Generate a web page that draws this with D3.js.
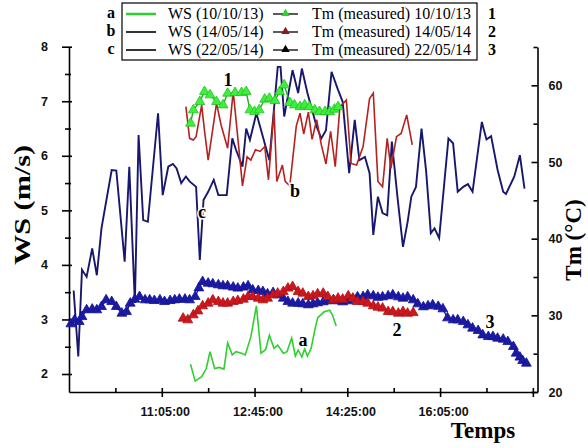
<!DOCTYPE html>
<html>
<head>
<meta charset='utf-8'>
<script src="https://d3js.org/d3.v7.min.js"></script>
<style>
    body { margin: 0; background: white; }
    .tick text { font-family: "Liberation Sans", Arial, sans-serif; font-weight: bold; font-size: 12.5px; fill: #111; }
    .tick line, .domain { stroke: #000; stroke-width: 1.6; }
    .title { font-family: "Liberation Serif", "Times New Roman", serif; font-weight: bold; fill: #000; }
    .leg { font-family: "Liberation Serif", "Times New Roman", serif; font-size: 16px; fill: #000; }
</style>
</head>
<body>
<script>

// WS (m/s) 10/10/13
var timeA = ["11:36","11:41","11:48","11:53","11:57","12:02","12:07","12:12","12:16","12:21","12:25","12:31","12:35","12:41","12:47","12:52","12:57","13:01","13:06","13:10","13:16","13:20","13:25","13:29","13:32","13:36","13:39","13:42","13:46","13:50","13:53","14:00","14:06","14:09","14:13"];
var wsA = [2.18,1.87,1.95,2.10,2.41,2.10,2.12,2.09,2.57,2.35,2.41,2.38,2.35,2.68,3.25,2.38,2.45,2.71,2.47,2.53,2.38,2.41,2.66,2.33,2.44,2.31,2.46,2.33,2.47,2.81,3.03,3.14,3.17,3.08,2.88];

// WS (m/s) 14/05/14
var timeB = ["11:31","11:35","11:39","11:42","11:48","11:51","11:55","11:58","12:04","12:09","12:16","12:22","12:29","12:32","12:37","12:41","12:46","12:51","12:56","13:00","13:06","13:09","13:15","13:18","13:23","13:30","13:34","13:38","13:43","13:47","13:52","13:57","14:02","14:07","14:12","14:17","14:24","14:29","14:35","14:42","14:49","14:53","14:58","15:03","15:08","15:12","15:18","15:23","15:29","15:35"];
var wsB = [6.90,6.32,6.29,6.35,6.93,6.47,5.92,6.26,6.96,6.56,6.14,7.18,5.98,5.45,5.98,5.92,6.11,6.08,6.17,5.56,6.84,5.53,5.83,5.53,5.45,6.55,6.78,6.40,6.80,6.30,6.66,6.20,5.85,6.45,5.80,6.90,7.02,5.86,5.83,6.17,7.05,7.15,5.53,5.43,6.32,5.77,6.35,6.41,6.75,6.20];

// WS (m/s) 22/05/14
var timeC = ["9:30","9:35","9:39","9:44","9:50","9:55","10:00","10:11","10:16","10:25","10:30","10:36","10:40","10:45","10:50","11:01","11:06","11:12","11:17","11:21","11:26","11:31","11:35","11:42","11:46","11:50","11:55","12:01","12:06","12:15","12:21","12:25","12:32","12:36","12:40","12:47","12:54","13:01","13:10","13:13","13:17","13:26","13:32","13:36","13:42","13:48","13:52","13:57","14:02","14:08","14:15","14:20","14:27","14:33","14:38","14:44","14:49","14:53","14:58","15:03","15:08","15:13","15:19","15:25","15:30","15:34","15:39","15:45","15:50","15:55","15:59","16:04","16:14","16:19","16:24","16:30","16:35","16:40","16:50","16:55","17:00","17:07","17:13","17:16","17:25","17:31","17:36"];
var wsC = [3.53,2.32,3.91,3.78,4.30,3.81,4.67,5.74,5.73,4.06,5.80,3.30,6.38,4.82,4.79,6.78,5.28,5.80,5.85,5.77,5.50,5.62,5.53,5.43,4.09,5.19,5.34,5.56,5.28,5.28,6.32,6.11,5.80,6.50,6.29,6.78,6.35,5.92,7.63,7.63,6.72,7.57,7.15,7.60,7.15,6.78,6.53,6.32,6.47,7.54,7.21,6.99,5.68,6.66,5.92,5.98,5.68,4.55,5.25,4.95,4.91,6.26,5.25,4.33,4.79,5.25,5.43,6.50,5.71,4.58,4.67,4.49,6.32,6.23,5.34,5.43,5.48,5.34,6.62,6.30,6.36,5.74,5.34,5.30,5.62,6.01,5.40];

// Tm (measured) 10/10/13
var timeT1 = ["11:36","11:39","11:46","11:51","11:57","12:04","12:11","12:16","12:24","12:31","12:36","12:40","12:45","12:50","12:56","13:01","13:07","13:12","13:17","13:23","13:28","13:34","13:39","13:44","13:50","13:55","14:01","14:06","14:11","14:15"];
var tm1 = [55.05,56.78,57.87,59.17,58.74,57.87,57.43,58.96,59.04,59.04,59.17,56.78,56.56,56.78,58.18,58.30,58.00,59.17,60.04,57.74,57.43,57.20,57.43,57.20,56.78,56.56,56.56,56.56,56.87,57.20];

// Tm (measured) 14/05/14
var timeT2 = ["11:28","11:33","11:39","11:44","11:49","11:55","12:00","12:06","12:11","12:16","12:22","12:27","12:33","12:38","12:43","12:49","12:54","12:59","13:05","13:10","13:16","13:21","13:26","13:32","13:37","13:43","13:48","13:53","13:59","14:04","14:10","14:15","14:20","14:26","14:31","14:36","14:42","14:47","14:53","14:58","15:03","15:09","15:14","15:20","15:25","15:30","15:36"];
var tm2 = [29.61,29.39,30.04,30.56,31.22,31.57,32.00,31.78,31.57,31.57,31.78,31.91,32.09,32.43,32.43,32.22,32.00,32.22,32.65,32.87,33.08,33.53,33.73,33.08,32.87,32.43,32.52,32.78,32.87,32.43,32.00,32.22,32.09,32.52,32.22,31.78,31.78,31.57,31.22,31.05,30.92,30.47,30.47,30.26,30.47,30.26,30.34];

// Tm (measured) 22/05/14
var timeT3 = ["9:27","9:31","9:36","9:39","9:44","9:50","9:55","10:00","10:05","10:11","10:16","10:22","10:27","10:31","10:36","10:41","10:47","10:52","10:57","11:03","11:08","11:14","11:19","11:24","11:30","11:35","11:41","11:45","11:49","11:55","12:00","12:06","12:11","12:16","12:22","12:27","12:33","12:38","12:43","12:49","12:54","12:59","13:05","13:10","13:16","13:21","13:26","13:32","13:37","13:43","13:48","13:53","13:59","14:04","14:10","14:15","14:20","14:26","14:31","14:36","14:42","14:47","14:53","14:58","15:03","15:09","15:14","15:20","15:25","15:30","15:36","15:41","15:47","15:52","15:57","16:03","16:08","16:13","16:19","16:24","16:30","16:35","16:40","16:46","16:51","16:57","17:02","17:07","17:13","17:18","17:24","17:27","17:31","17:34","17:38"];
var tm3 = [28.87,29.39,29.17,29.82,30.70,30.79,30.70,31.13,32.00,31.78,31.13,30.26,30.47,31.57,32.09,32.43,32.00,32.00,31.91,32.00,31.78,31.91,32.00,32.09,32.09,32.00,32.43,33.56,34.39,34.18,34.09,33.96,33.83,33.83,33.66,33.53,33.66,33.83,33.30,33.21,33.08,32.78,32.95,32.65,32.22,31.78,31.57,31.57,31.48,31.35,31.48,31.61,31.74,31.87,32.00,31.87,31.74,31.87,32.13,32.39,32.43,32.65,32.52,32.33,32.39,32.52,32.65,32.39,32.22,32.39,32.00,31.48,31.09,31.22,31.35,31.15,30.83,29.65,29.39,29.39,29.17,28.74,28.31,28.00,27.43,27.21,27.21,27.00,26.87,26.56,25.91,25.05,24.53,24.08,23.74];

// axes
var xTickTimes = ["11:05","12:45","14:25","16:05","17:45"];
var xTickLabels = ["11:05:00","12:45:00","14:25:00","16:05:00",""];
var xMinorTimes = ["10:15","11:55","13:35","15:15","16:55"];
var wsTicks = [2,3,4,5,6,7,8];
var wsMinor = [2.5,3.5,4.5,5.5,6.5,7.5];
var tmTicks = [20,30,40,50,60];
var tmMinor = [25,35,45,55,65];

// legend
var legLetters = ["a","b","c"];
var legWS = ["WS (10/10/13)","WS (14/05/14)","WS (22/05/14)"];
var legTm = ["Tm (measured) 10/10/13","Tm (measured) 14/05/14","Tm (measured) 22/05/14"];
var legNumbers = ["1","2","3"];

var width = 588, height = 448;

var svg = d3.select('body')
    .append('svg')
    .attr('width', width)
    .attr('height', height);

function toMin(s) {
    var p = s.split(':');
    return +p[0] * 60 + +p[1];
}
function pairs(times, vals) {
    return times.map(function(t, i) { return {t: toMin(t), v: vals[i]}; });
}

var x = d3.scaleLinear().domain([toMin("9:25"), toMin("17:50")]).range([69, 537.5]);
var yWS = d3.scaleLinear().domain([1.67, 8]).range([392, 46.7]);
var yTm = d3.scaleLinear().domain([20, 65]).range([392, 47]);

// left axis
var gl = svg.append("g").attr("transform", "translate(69,0)")
    .call(d3.axisLeft(yWS).tickValues(wsTicks).tickSizeInner(7).tickSizeOuter(0).tickPadding(14).tickFormat(d3.format("d")));
gl.selectAll(".tick line").attr("x1", 3);
var glm = svg.append("g").attr("transform", "translate(69,0)")
    .call(d3.axisLeft(yWS).tickValues(wsMinor).tickSize(4).tickFormat(""));
glm.select(".domain").remove();
glm.selectAll(".tick line").attr("x1", 2);

// right axis (ticks inward)
svg.append("g").attr("transform", "translate(537.5,0)")
    .call(d3.axisRight(yTm).tickValues(tmTicks).tickSizeInner(-6).tickSizeOuter(0).tickPadding(11).tickFormat(d3.format("d")));
var grm = svg.append("g").attr("transform", "translate(537.5,0)")
    .call(d3.axisRight(yTm).tickValues(tmMinor).tickSize(-4).tickFormat(""));
grm.select(".domain").remove();

// bottom axis
var gb = svg.append("g").attr("transform", "translate(0,392)")
    .call(d3.axisBottom(x).tickValues(xTickTimes.map(toMin)).tickSizeInner(5).tickSizeOuter(0).tickPadding(10)
        .tickFormat(function(d, i) { return xTickLabels[i]; }));
gb.selectAll(".tick line").attr("y1", -4);
gb.selectAll(".tick text").attr("dx", 3);
var gbm = svg.append("g").attr("transform", "translate(0,392)")
    .call(d3.axisBottom(x).tickValues(xMinorTimes.map(toMin)).tickSize(1).tickFormat(""));
gbm.select(".domain").remove();
gbm.selectAll(".tick line").attr("y1", -4);

// axis titles
svg.append("text").attr("class", "title")
    .attr("transform", "translate(30,205) rotate(-90)")
    .attr("text-anchor", "middle")
    .attr("font-size", 24)
    .attr("textLength", 120).attr("lengthAdjust", "spacingAndGlyphs")
    .text("WS (m/s)");
svg.append("text").attr("class", "title")
    .attr("transform", "translate(581,240) rotate(-90)")
    .attr("text-anchor", "middle")
    .attr("font-size", 23)
    .text("Tm (\u00B0C)");
svg.append("text").attr("class", "title")
    .attr("x", 483).attr("y", 438)
    .attr("text-anchor", "middle")
    .attr("font-size", 23)
    .text("Temps");

// WS lines
var lineWS = d3.line().x(function(d) { return x(d.t); }).y(function(d) { return yWS(d.v); });
var lineTm = d3.line().x(function(d) { return x(d.t); }).y(function(d) { return yTm(d.v); });

svg.append("path").datum(pairs(timeC, wsC))
    .attr("d", lineWS).attr("fill", "none").attr("stroke", "#17176e").attr("stroke-width", 1.9);
svg.append("path").datum(pairs(timeB, wsB))
    .attr("d", lineWS).attr("fill", "none").attr("stroke", "#b3221e").attr("stroke-width", 1.6);
svg.append("path").datum(pairs(timeA, wsA))
    .attr("d", lineWS).attr("fill", "none").attr("stroke", "#2fcf2f").attr("stroke-width", 1.6);

// Tm series with triangles
var tri = d3.symbol().type(d3.symbolTriangle).size(42);
function tmSeries(times, vals, lineColor, fill, edge) {
    var data = pairs(times, vals);
    svg.append("path").datum(data)
        .attr("d", lineTm).attr("fill", "none").attr("stroke", lineColor).attr("stroke-width", 1.4);
    svg.append("g").selectAll("path")
        .data(data)
        .enter()
        .append("path")
        .attr("d", tri)
        .attr("transform", function(d) { return "translate(" + x(d.t) + "," + yTm(d.v) + ")"; })
        .attr("fill", fill)
        .attr("stroke", edge)
        .attr("stroke-width", 0.8);
}
tmSeries(timeT3, tm3, "#1a1aa6", "#1a1aa6", "#15158f");
tmSeries(timeT2, tm2, "#c8161c", "#cc171d", "#b01218");
tmSeries(timeT1, tm1, "#22aa22", "#3cf03c", "#22c022");

// curve labels
var labels = [
    {s: "1", x: 228, y: 86}, {s: "2", x: 397, y: 336}, {s: "3", x: 490, y: 328},
    {s: "a", x: 303, y: 346}, {s: "b", x: 295, y: 197}, {s: "c", x: 202, y: 218}
];
svg.selectAll(".lbl").data(labels).enter().append("text")
    .attr("class", "title lbl")
    .attr("x", function(d) { return d.x; }).attr("y", function(d) { return d.y; })
    .attr("text-anchor", "middle").attr("font-size", 18)
    .attr("stroke", "white").attr("stroke-width", 3).attr("paint-order", "stroke")
    .text(function(d) { return d.s; });

// legend
svg.append("rect").attr("x", 122).attr("y", 3).attr("width", 355).attr("height", 57)
    .attr("fill", "white").attr("stroke", "#000").attr("stroke-width", 1.2);
var legColors = ["#2fcf2f", "#000", "#000"];
var legFill = ["#2fcf2f", "#8b1a1a", "#000"];
var rows = svg.selectAll(".legrow").data(legWS).enter().append("g")
    .attr("transform", function(d, i) { return "translate(0," + (19 + i * 18) + ")"; });
rows.append("text").attr("class", "title").attr("x", 111).attr("y", -1).attr("text-anchor", "middle")
    .attr("font-size", 16).text(function(d, i) { return legLetters[i]; });
rows.append("line").attr("x1", 126).attr("x2", 156).attr("y1", -5).attr("y2", -5)
    .attr("stroke", function(d, i) { return legColors[i]; }).attr("stroke-width", function(d, i) { return i == 0 ? 2.5 : 1.6; });
rows.append("text").attr("class", "leg").attr("x", 168).attr("y", 0).text(function(d) { return d; });
rows.append("line").attr("x1", 273).attr("x2", 298).attr("y1", -5).attr("y2", -5)
    .attr("stroke", "#000").attr("stroke-width", 1.3);
rows.append("path").attr("d", d3.symbol().type(d3.symbolTriangle).size(30))
    .attr("transform", "translate(285.5,-5.5)")
    .attr("fill", function(d, i) { return legFill[i]; });
rows.append("text").attr("class", "leg").attr("x", 312).attr("y", 0).text(function(d, i) { return legTm[i]; });
rows.append("text").attr("class", "title").attr("x", 492).attr("y", 0).attr("text-anchor", "middle")
    .attr("font-size", 16).text(function(d, i) { return legNumbers[i]; });

</script>
</body>
</html>
